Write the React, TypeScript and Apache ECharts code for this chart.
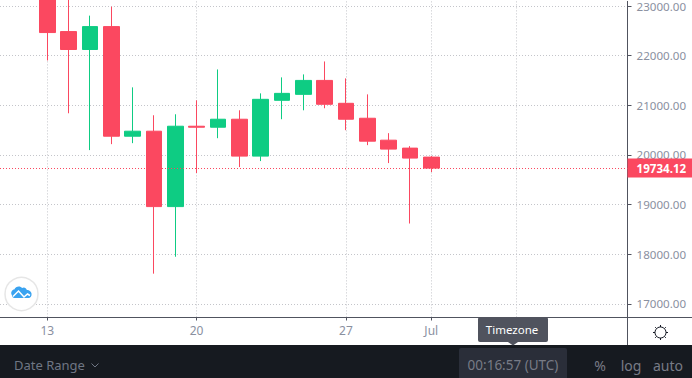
import React, { useEffect, useRef } from "react";
import * as echarts from "echarts";

const days = [13, 14, 15, 16, 17, 18, 19, 20, 21, 22, 23, 24, 25, 26, 27, 28, 29, 30, 31];
const opens = [23300, 22485, 22124, 22585, 20377, 20478, 18959, 20578, 20558, 20719, 19976, 21100, 21220, 21501, 21040, 20739, 20297, 20137, 19956];
const closes = [22465, 22124, 22585, 20377, 20478, 18959, 20578, 20558, 20719, 19976, 21120, 21240, 21501, 21020, 20719, 20277, 20117, 19936, 19734.12];
const lows = [21903, 20839, 20097, 20217, 20237, 17608, 17949, 19635, 20337, 19755, 19876, 20719, 20899, 20940, 20498, 20197, 19836, 18618, 19655];
const highs = [23500, 23300, 22806, 22987, 21361, 20799, 20819, 21100, 21722, 20899, 21240, 21562, 21622, 21883, 21542, 21220, 20438, 20177, 19976];
const priceTicks = [17000, 18000, 19000, 20000, 21000, 22000, 23000];
const dayTicks = [13, 20, 27, 31, 35];
const dayLabelValues = [13, 20, 27, 31];
const dayLabels: Record<number, string> = { 13: "13", 20: "20", 27: "27", 31: "Jul" };
const lastPrice = 19734.12;

const RED = "#fb4860";
const GREEN = "#0ecc83";
const GRID = "#c4c5ca";
const AXIS = "#50535e";
const LABEL = "#8a909f";
const FONT = "'Noto Sans', sans-serif";

echarts.graphic.registerShape(
  "cloudLogo",
  echarts.graphic.extendPath(
    "M1 17C-1 13 2 9 5 9C7 4 14 3 17 7C19 5 23 6 24 10C29 10 32 14 31 18C30 21 28 22 26 22L5 22C3 22 2 20 1 17Z",
    {}
  )
);

export default function App() {
  const ref = useRef<HTMLDivElement>(null);
  useEffect(() => {
    const chart = echarts.init(ref.current!, null, { renderer: "svg" });
    const sunRays = [0, 90, 180, 270, 45, 135, 225, 315].map((a) => {
      const r = (a * Math.PI) / 180;
      return {
        type: "line",
        shape: {
          x1: 660.5 + Math.cos(r) * 5.5,
          y1: 332.5 + Math.sin(r) * 5.5,
          x2: 660.5 + Math.cos(r) * 7.5,
          y2: 332.5 + Math.sin(r) * 7.5,
        },
        style: { stroke: "#131722", lineWidth: 1 },
      };
    });
    chart.setOption({
      animation: false,
      backgroundColor: "#ffffff",
      grid: { left: 0, right: 64.5, top: 0, bottom: 60.5, containLabel: false },
      xAxis: {
        type: "value",
        min: 10.7825,
        max: 40.2,
        axisLine: { show: true, onZero: false, lineStyle: { color: AXIS, width: 1 } },
        axisTick: { show: true, customValues: dayTicks, length: 3, lineStyle: { color: AXIS } },
        axisLabel: {
          customValues: dayLabelValues,
          color: LABEL,
          fontFamily: FONT,
          fontSize: 12,
          margin: 7,
          formatter: (v: number) => dayLabels[v] ?? "",
        },
        splitLine: { show: true, lineStyle: { color: GRID, type: [1, 2], width: 1 } },
      },
      yAxis: {
        type: "value",
        position: "right",
        min: 16725,
        max: 23093,
        axisLine: { show: true, onZero: false, lineStyle: { color: AXIS, width: 1 } },
        axisTick: { show: true, customValues: priceTicks, length: 4, lineStyle: { color: AXIS } },
        axisLabel: {
          customValues: priceTicks,
          color: LABEL,
          fontFamily: FONT,
          fontSize: 11.6,
          margin: 9,
          padding: [0, 0, 2, 0],
          formatter: (v: number) => v.toFixed(2),
        },
        splitLine: { show: true, lineStyle: { color: GRID, type: [1, 2], width: 1 } },
      },
      series: [
        {
          type: "candlestick",
          barWidth: 16,
          encode: { x: 0, y: [1, 2, 3, 4] },
          itemStyle: {
            color: GREEN,
            color0: RED,
            borderColor: GREEN,
            borderColor0: RED,
            borderWidth: 1,
          },
          data: days.map((d, i) => [d, opens[i], closes[i], lows[i], highs[i]]),
          markLine: {
            silent: true,
            symbol: "none",
            lineStyle: { color: RED, type: [1, 2], width: 1 },
            label: {
              show: true,
              position: "end",
              distance: 0,
              formatter: () => lastPrice.toFixed(2),
              color: "#ffffff",
              fontFamily: FONT,
              fontWeight: "bold",
              fontSize: 11.6,
              backgroundColor: RED,
              width: 56,
              height: 19,
              lineHeight: 19,
              align: "left",
              padding: [0, 0, 0, 9],
            },
            data: [{ yAxis: lastPrice }],
          },
        },
      ],
      graphic: [
        { type: "line", z: 10, shape: { x1: 627.5, y1: 317.5, x2: 692, y2: 317.5 }, style: { stroke: AXIS, lineWidth: 1 } },
        { type: "line", z: 10, shape: { x1: 627.5, y1: 317.5, x2: 627.5, y2: 345 }, style: { stroke: AXIS, lineWidth: 1 } },
        { type: "circle", z: 10, shape: { cx: 21.5, cy: 294, r: 16.5 }, style: { fill: "#ffffff", stroke: "#e6e6e6", lineWidth: 1.5 } },
        { type: "cloudLogo", z: 11, x: 11, y: 283.5, scaleX: 0.66, scaleY: 0.66, style: { fill: "#3aa3f0" } },
        { type: "polyline", z: 12, shape: { points: [[13, 296.5], [18.5, 291], [24, 297], [27.5, 294], [30, 295.5]] }, style: { fill: "none", stroke: "#ffffff", lineWidth: 1.5 } },
        { type: "circle", z: 10, shape: { cx: 660.5, cy: 332.5, r: 5.5 }, style: { fill: "none", stroke: "#131722", lineWidth: 1 } },
        ...sunRays.map((r) => ({ ...r, z: 10 })),
        { type: "rect", z: 20, shape: { x: 0, y: 345, width: 692, height: 33 }, style: { fill: "#161a20" } },
        { type: "rect", z: 21, shape: { x: 459, y: 348, width: 108, height: 30, r: [2, 2, 0, 0] }, style: { fill: "#2a2e39" } },
        { type: "text", z: 22, x: 14, y: 365, style: { text: "Date Range", fill: "#6f7684", font: `13px ${FONT}`, textVerticalAlign: "middle" } },
        { type: "polyline", z: 22, shape: { points: [[91.5, 363.5], [95, 367], [98.5, 363.5]] }, style: { fill: "none", stroke: "#6f7684", lineWidth: 1 } },
        { type: "text", z: 22, x: 513, y: 365, style: { text: "00:16:57 (UTC)", fill: "#787b86", font: `13.5px ${FONT}`, textAlign: "center", textVerticalAlign: "middle" } },
        { type: "text", z: 22, x: 600, y: 365, style: { text: "%", fill: "#787b86", font: `14px ${FONT}`, textAlign: "center", textVerticalAlign: "middle" } },
        { type: "text", z: 22, x: 631, y: 365, style: { text: "log", fill: "#787b86", font: `14px ${FONT}`, textAlign: "center", textVerticalAlign: "middle" } },
        { type: "text", z: 22, x: 668, y: 365, style: { text: "auto", fill: "#787b86", font: `14px ${FONT}`, textAlign: "center", textVerticalAlign: "middle" } },
        { type: "rect", z: 23, shape: { x: 478, y: 317, width: 70, height: 25, r: 2 }, style: { fill: "#50535e" } },
        { type: "polygon", z: 23, shape: { points: [[508, 342], [518, 342], [513, 345.5]] }, style: { fill: "#50535e" } },
        { type: "text", z: 24, x: 512, y: 329.5, style: { text: "Timezone", fill: "#ffffff", font: `11.5px ${FONT}`, textAlign: "center", textVerticalAlign: "middle" } },
      ],
    });
    return () => chart.dispose();
  }, []);
  return <div ref={ref} style={{ position: "fixed", left: 0, top: 0, width: 692, height: 378 }} />;
}
